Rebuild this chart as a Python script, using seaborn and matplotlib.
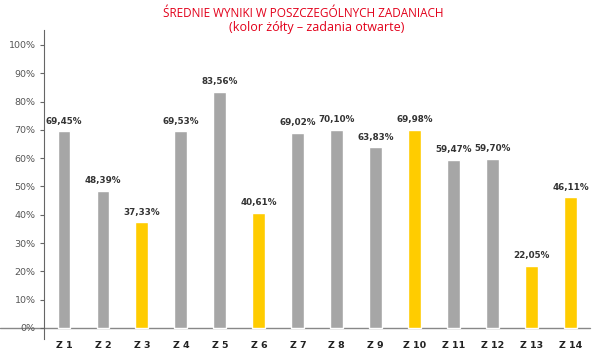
#! /usr/bin/env python3

import seaborn as sns
import pandas as pd
import numpy as np
import matplotlib
matplotlib.use('Agg')

import matplotlib.pyplot as plt

tasks = ['Z 1', 'Z 2', 'Z 3', 'Z 4', 'Z 5', 'Z 6', 'Z 7',
         'Z 8', 'Z 9', 'Z 10', 'Z 11', 'Z 12', 'Z 13', 'Z 14']
scores = [69.45, 48.39, 37.33, 69.53, 83.56, 40.61, 69.02,
          70.10, 63.83, 69.98, 59.47, 59.70, 22.05, 46.11]
task_type = ['zamknięte', 'zamknięte', 'otwarte', 'zamknięte', 'zamknięte', 'otwarte', 'zamknięte',
             'zamknięte', 'zamknięte', 'otwarte', 'zamknięte', 'zamknięte', 'otwarte', 'otwarte']
yticks = [0, 10, 20, 30, 40, 50, 60, 70, 80, 90, 100]


def plot_scores(data):
    sns.set_style('white')
    plt.rcParams['font.family'] = ['DejaVu Sans']
    fig = plt.figure(figsize=(6, 3.57), dpi=100)
    ax = fig.add_axes([0.0733, 0.0504, 0.91, 0.8656])
    cmap = {'zamknięte': '#a6a6a6', 'otwarte': '#ffcc00'}
    sns.barplot(x='task', y='score', hue='type', data=data, palette=cmap,
                width=0.33, dodge=False, legend=False, saturation=1, ax=ax)
    for cont in ax.containers:
        labels = [f'{v:.2f}%'.replace('.', ',') for v in cont.datavalues]
        ax.bar_label(cont, labels=labels, padding=4, fontsize=6.3,
                     fontweight='bold', color='#333333')
    ax.set_xlim(-0.513, 13.495)
    ax.set_ylim(-3.9, 105.3)
    ax.set_yticks(yticks)
    ax.set_yticklabels([f'{t}%' for t in yticks], fontsize=6.8, color='#555555')
    ax.tick_params(axis='y', left=True, length=3, width=0.8, color='#666666', pad=3)
    ax.tick_params(axis='x', bottom=False, labelsize=6.8, labelcolor='#222222', pad=-2)
    for lab in ax.get_xticklabels():
        lab.set_fontweight('semibold')
    ax.set_xlabel('')
    ax.set_ylabel('')
    for s in ['top', 'right', 'bottom']:
        ax.spines[s].set_visible(False)
    ax.spines['left'].set_color('#666666')
    ax.spines['left'].set_linewidth(0.8)
    ax.axhline(0, xmin=-0.081, xmax=1, color='#888888', lw=1, clip_on=False, zorder=0)
    fig.text(0.505, 0.962, 'ŚREDNIE WYNIKI W POSZCZEGÓLNYCH ZADANIACH',
             ha='center', va='center', fontsize=8.5, color='#e2001a',
             family=['Open Sans', 'DejaVu Sans'])
    fig.text(0.527, 0.922, '(kolor żółty – zadania otwarte)',
             ha='center', va='center', fontsize=9, color='#e2001a',
             family=['Open Sans', 'DejaVu Sans'])
    plt.savefig('out.png', dpi=100)


if __name__ == '__main__':
    data = pd.DataFrame({'task': tasks, 'score': scores, 'type': task_type})
    plot_scores(data)
